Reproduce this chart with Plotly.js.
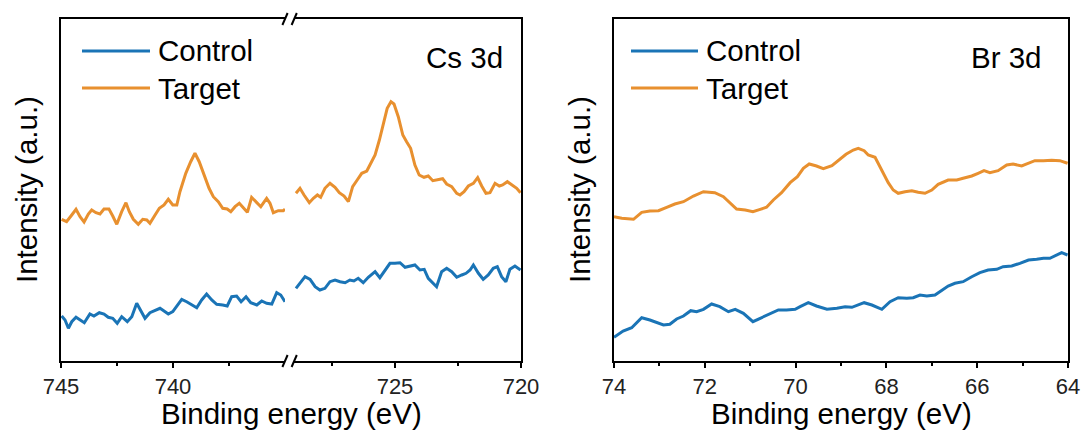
<!DOCTYPE html>
<html>
<head>
<meta charset="utf-8">
<script src="https://cdn.plot.ly/plotly-3.0.1.min.js"></script>
<style>html,body{margin:0;padding:0;background:#fff;}#chart{width:1091px;height:437px;}</style>
</head>
<body>
<div id="chart"></div>
<script>
// ---- Data (binding energy in eV, intensity in arbitrary units) ----
// Cs 3d, high-energy segment (745-735 eV)
const csHighTargetE = [744.97,744.75,744.52,744.33,744.15,743.97,743.78,743.63,743.44,743.26,743.08,742.86,742.69,742.51,742.29,742.10,741.95,741.77,741.55,741.35,741.17,741.03,740.80,740.61,740.40,740.21,740.01,739.83,739.69,739.43,739.21,739.02,738.83,738.62,738.39,738.20,737.98,737.78,737.58,737.42,737.23,737.04,736.86,736.68,736.49,736.29,736.08,735.82,735.67,735.52,735.30,735.08,735.00];
const csHighTargetI = [140.7,138.3,145,150.7,143.3,138,146,150,147.3,146,151,151,144,135.7,148.3,157.3,148.3,140.7,135.7,140.7,140,136.7,145,151.7,155,160.7,155,155,168.3,186.7,198.3,206.7,198.3,185,171.7,163.3,158.3,151.7,151,148.3,153.3,156.7,151.7,147.7,162.7,158.3,153.3,161.7,156.7,147.3,149.3,149.3,150.7];
const csHighControlE = [744.97,744.82,744.67,744.52,744.33,744.15,743.96,743.71,743.53,743.29,743.08,742.89,742.69,742.49,742.29,742.04,741.84,741.62,741.44,741.25,741.03,740.80,740.58,740.40,740.21,740.01,739.81,739.61,739.39,739.17,738.94,738.72,738.50,738.27,738.05,737.78,737.58,737.38,737.16,736.96,736.74,736.53,736.26,736.04,735.82,735.59,735.37,735.19,735.00];
const csHighControlI = [44,40,31.7,38.3,42.7,40,37.3,46,44,47.3,46,42.7,41.7,36.7,43.3,38.3,43.3,56.7,50,41.7,47.3,49.3,51.7,49,46,48.3,55,60.7,58.3,55,52.3,60,66,60,55.7,55,54,63.3,64,58.3,63.3,57.3,55,59,56.7,56,67.3,65,58.3];
// Cs 3d, low-energy segment (729-720 eV)
const csLowTargetE = [728.93,728.77,728.61,728.40,728.24,728.08,727.95,727.78,727.58,727.38,727.21,727.02,726.85,726.68,726.50,726.32,726.12,725.96,725.79,725.62,725.46,725.31,725.16,725.04,724.87,724.69,724.54,724.38,724.21,724.04,723.85,723.68,723.50,723.32,723.11,722.95,722.75,722.55,722.42,722.26,722.09,721.89,721.72,721.56,721.39,721.23,721.03,720.86,720.73,720.54,720.37,720.17,720.02];
const csLowTargetI = [166.7,171.7,165,157.3,161.7,165,162.7,171.7,176.7,172.7,167.3,164,158.3,173.3,180,186.7,189,196.7,205,220,236.7,251.7,258.3,256,243.3,225,218.3,211.7,195,185,182.7,184,179.3,180,181.3,176,173.3,166.7,165,168.3,174,176.7,182.3,174,166.7,167.3,176.7,174,175,178.3,175,171.7,167.3];
const csLowControlE = [728.93,728.77,728.57,728.37,728.17,727.98,727.78,727.58,727.38,727.18,726.98,726.79,726.63,726.46,726.26,726.06,725.79,725.60,725.40,725.20,725.00,724.80,724.60,724.40,724.21,724.01,723.84,723.68,723.48,723.35,723.15,722.95,722.75,722.55,722.35,722.18,722.02,721.89,721.69,721.50,721.30,721.10,720.94,720.77,720.60,720.44,720.24,720.02];
const csLowControlI = [71.7,76.7,83.3,80.7,73.3,70,71.7,78.3,80,78.3,77.3,80,79,81.7,77.3,82.7,88.3,82.3,90,96.7,96.7,97.3,92.7,94,95,90,90.7,81.7,76.7,73.3,88.3,91.7,88.3,82.7,85,86.7,90,95,86.7,80.7,85,91.7,93.3,83.3,78.3,90.7,94,90];
// Br 3d
const brTargetE = [74.00,73.83,73.57,73.39,73.21,73.02,72.84,72.66,72.47,72.25,72.03,71.78,71.59,71.44,71.30,71.11,70.94,70.78,70.64,70.49,70.31,70.12,69.96,69.83,69.70,69.54,69.39,69.20,69.06,68.89,68.73,68.62,68.49,68.40,68.25,68.10,67.96,67.85,67.74,67.59,67.44,67.30,67.15,67.00,66.86,66.64,66.45,66.31,66.12,65.98,65.85,65.72,65.54,65.35,65.21,65.02,64.87,64.73,64.54,64.36,64.18,64.01];
const brTargetI = [143.3,141.7,140.7,147.7,149,149.3,152.7,156,158.3,164,168.3,167.3,163.3,156.7,151,150,148.3,150.7,152.7,160,167.3,177.3,183.3,191.7,196,194,191.3,194.3,199.3,205.7,210,211.7,209.3,205,202.7,190,177.3,170,166.7,168.3,169.3,167.7,166.7,170,175.7,180,180,181.7,184,186.7,189.3,187.3,189.3,195,196,194,196.7,199.3,199.3,199.7,199.3,196.7];
const brControlE = [74.00,73.80,73.61,73.39,73.21,73.02,72.91,72.77,72.62,72.47,72.31,72.18,72.03,71.85,71.67,71.48,71.33,71.15,70.94,70.78,70.56,70.38,70.20,70.01,69.90,69.72,69.54,69.31,69.09,68.91,68.76,68.62,68.49,68.32,68.10,67.92,67.74,67.55,67.41,67.26,67.11,66.93,66.78,66.64,66.49,66.31,66.12,65.94,65.76,65.57,65.43,65.24,65.06,64.87,64.69,64.54,64.40,64.25,64.14,64.01];
const brControlI = [22.7,29,32.3,42.3,40,36.7,35,35.7,41,44,49.3,48.3,50.7,56,53.3,48.3,50.7,46.7,38.3,41.7,46,50,50,50.7,53.3,57.3,54,50.7,51.7,53.3,52.7,55,57.3,55,50.7,58.3,62.3,61.7,62.3,65,64,65,70,74,76.7,78.3,83.3,87.3,90,90.7,93.3,94,96.7,100,100.7,101.7,101.7,105,107.3,105];

const seriesNames = ['Control', 'Target'];
const csTickVals1 = [745, 740], csMinor1 = [742.5, 737.5];
const csTickVals2 = [725, 720], csMinor2 = [727.5, 722.5];
const brTickVals = [74, 72, 70, 68, 66, 64], brMinor = [73, 71, 69, 67, 65];

// ---- Styling / layout ----
const W = 1091, H = 437;
const PX = p => p / W, PY = p => 1 - p / H;
const BLUE = '#1a74b6', ORANGE = '#e8902f';
const FONT = 'Liberation Sans, Arial, sans-serif';
const lw = 3;

function tr(x, y, color, xa, ya) {
  return {x: x, y: y, type: 'scatter', mode: 'lines', xaxis: xa, yaxis: ya,
          line: {color: color, width: lw}, showlegend: false, hoverinfo: 'skip'};
}
const data = [
  tr(csHighControlE, csHighControlI, BLUE, 'x', 'y'),
  tr(csHighTargetE, csHighTargetI, ORANGE, 'x', 'y'),
  tr(csLowControlE, csLowControlI, BLUE, 'x2', 'y2'),
  tr(csLowTargetE, csLowTargetI, ORANGE, 'x2', 'y2'),
  tr(brControlE, brControlI, BLUE, 'x3', 'y3'),
  tr(brTargetE, brTargetI, ORANGE, 'x3', 'y3')
];

const yDom = [PY(361), PY(19)];
const yRange = [-1, 341];
function xax(dom, range, tv, mv, anchor) {
  return {domain: dom, range: range, anchor: anchor, showline: true, linecolor: '#000', linewidth: 2,
          mirror: true, ticks: 'outside', ticklen: 5, tickwidth: 2, tickcolor: '#000',
          tickmode: 'array', tickvals: tv, ticktext: tv.map(String),
          minor: {tickmode: 'array', tickvals: mv, ticks: 'outside', ticklen: 2.5, tickwidth: 2, tickcolor: '#000', showgrid: false},
          showgrid: false, zeroline: false,
          tickfont: {family: FONT, size: 22, color: '#222'}, fixedrange: true};
}
function yax(anchor, extra) {
  return Object.assign({domain: yDom, range: yRange, anchor: anchor, showline: true, linecolor: '#000', linewidth: 2,
          ticks: '', showticklabels: false, showgrid: false, zeroline: false, fixedrange: true}, extra || {});
}

const shapes = [];
// axis break marks "//"
[285, 294.2].forEach(bx => {
  [19, 361].forEach(by => {
    shapes.push({type: 'line', xref: 'paper', yref: 'paper',
      x0: PX(bx - 2.6), y0: PY(by + 6), x1: PX(bx + 2.6), y1: PY(by - 6),
      line: {color: '#000', width: 2}});
  });
});
// legend samples
const legendRows = [[51, BLUE], [88, ORANGE]];
[[82, 150], [631, 698]].forEach(([a, b]) => {
  legendRows.forEach(([ly, c]) => {
    shapes.push({type: 'line', xref: 'paper', yref: 'paper', x0: PX(a), x1: PX(b), y0: PY(ly), y1: PY(ly),
      line: {color: c, width: lw}});
  });
});

const annotations = [];
function txt(text, x, y, xanchor, size, angle) {
  annotations.push({text: text, xref: 'paper', yref: 'paper', x: x, y: y, xanchor: xanchor, yanchor: 'middle',
    showarrow: false, borderpad: 0, textangle: angle || 0, font: {family: FONT, size: size, color: '#000'}});
}
[158, 706].forEach(lx => {
  txt(seriesNames[0], PX(lx - 1), PY(51), 'left', 29.5);
  txt(seriesNames[1], PX(lx - 1), PY(88), 'left', 29.5);
});
txt('Cs 3d', PX(504), PY(57), 'right', 29.5);
txt('Br 3d', PX(1043), PY(57), 'right', 29.5);
txt('Binding energy (eV)', PX(291), PY(413), 'center', 29.5);
txt('Binding energy (eV)', PX(841), PY(413), 'center', 29.5);
txt('Intensity (a.u.)', PX(27), PY(190), 'center', 29.5, -90);
txt('Intensity (a.u.)', PX(580), PY(190), 'center', 29.5, -90);

const layout = {
  width: W, height: H, margin: {l: 0, r: 0, t: 0, b: 0},
  paper_bgcolor: '#fff', plot_bgcolor: '#fff', showlegend: false,
  xaxis: xax([PX(61), PX(285)], [745, 735], csTickVals1, csMinor1, 'y'),
  yaxis: yax('x'),
  xaxis2: xax([PX(294.2), PX(521)], [729, 720], csTickVals2, csMinor2, 'y2'),
  yaxis2: yax('x2', {side: 'right'}),
  xaxis3: xax([PX(614), PX(1068)], [74, 64], brTickVals, brMinor, 'y3'),
  yaxis3: yax('x3', {mirror: true}),
  shapes: shapes, annotations: annotations
};
Plotly.newPlot('chart', data, layout, {displayModeBar: false, staticPlot: true});
</script>
</body>
</html>
